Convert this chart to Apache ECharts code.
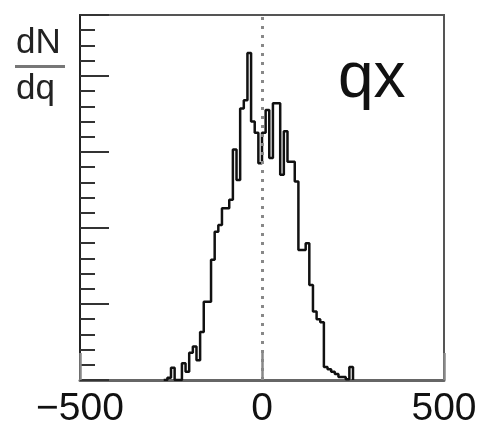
<!DOCTYPE html>
<html>
<head>
<meta charset="utf-8">
<script src="https://cdn.jsdelivr.net/npm/echarts@6/dist/echarts.min.js"></script>
<style>
html,body{margin:0;padding:0;background:#fff;}
#chart{width:482px;height:430px;}
</style>
</head>
<body>
<div id="chart"></div>
<script>
// Histogram bin left edges (q) and entries per bin
var binLeftEdges = [-260,-250,-240,-230,-220,-210,-200,-190,-180,-170,-160,-150,-140,-130,-120,-110,-100,-90,-80,-70,-60,-50,-40,-30,-20,-10,0,10,20,30,40,50,60,70,80,90,100,110,120,130,140,150,160,170,180,190,200,210,220,230,240];
var binCounts    = [3,16,0,0,22,11,36,44,26,63,103,103,158,195,204,226,226,237,303,263,357,368,430,340,325,285,325,355,292,364,364,270,327,287,287,261,171,171,180,125,90,80,76,17,14,11,8,4,4,1,17];
var histStart = -270;
var histEnd = 250;
var xTicks = [-500, 0, 500];
var xMin = -500, xMax = 500;
var yMax = 480;

var data = [[histStart, 0]];
for (var i = 0; i < binLeftEdges.length; i++) data.push([binLeftEdges[i], binCounts[i]]);
data.push([histEnd, 0]);

var chart = echarts.init(document.getElementById('chart'));
var FONT = 'Liberation Sans, Arial, Helvetica, sans-serif';
chart.setOption({
  animation: false,
  backgroundColor: '#fff',
  grid: {left: 80, right: 38, top: 15, bottom: 50, show: true, borderColor: '#555', borderWidth: 2, backgroundColor: 'transparent'},
  xAxis: {
    type: 'value', min: xMin, max: xMax, interval: 500,
    axisLine: {show: true, onZero: false, lineStyle: {color: '#666', width: 3}},
    axisTick: {show: true, inside: true, length: 27, lineStyle: {color: '#888', width: 2.5}},
    splitLine: {show: false},
    axisLabel: {
      show: true, margin: 10, color: '#111', fontSize: 39, fontFamily: FONT,
      formatter: function (v) { return xTicks.indexOf(v) >= 0 ? String(v).replace('-', '\u2212') : ''; }
    }
  },
  yAxis: [{
    type: 'value', min: 0, max: yMax, interval: 20, position: 'left',
    axisLine: {show: true, onZero: false, lineStyle: {color: '#222', width: 2}},
    axisTick: {show: true, inside: true, length: 15, lineStyle: {color: '#333', width: 2}},
    axisLabel: {show: false}, splitLine: {show: false}
  }, {
    type: 'value', min: 0, max: yMax, interval: 100, position: 'left',
    axisLine: {show: false, onZero: false},
    axisTick: {show: true, inside: true, length: 29, lineStyle: {color: '#333', width: 2}},
    axisLabel: {show: false}, splitLine: {show: false}
  }],
  series: [{
    type: 'line', step: 'end', data: data, symbol: 'none',
    lineStyle: {color: '#111', width: 2.5},
    markLine: {
      silent: true, symbol: 'none', label: {show: false},
      lineStyle: {color: '#888', width: 3, type: [3, 6]},
      data: [{xAxis: 0}]
    }
  }],
  graphic: [
    {type: 'text', left: 338, top: 47, style: {text: 'qx', font: '64px ' + FONT, fill: '#111'}},
    {type: 'text', left: 16, top: 26, style: {text: 'dN', font: '35px ' + FONT, fill: '#222'}},
    {type: 'rect', shape: {x: 15, y: 65, width: 50, height: 3}, style: {fill: '#777'}},
    {type: 'text', left: 16, top: 72, style: {text: 'dq', font: '35px ' + FONT, fill: '#222'}}
  ]
});
</script>
</body>
</html>
